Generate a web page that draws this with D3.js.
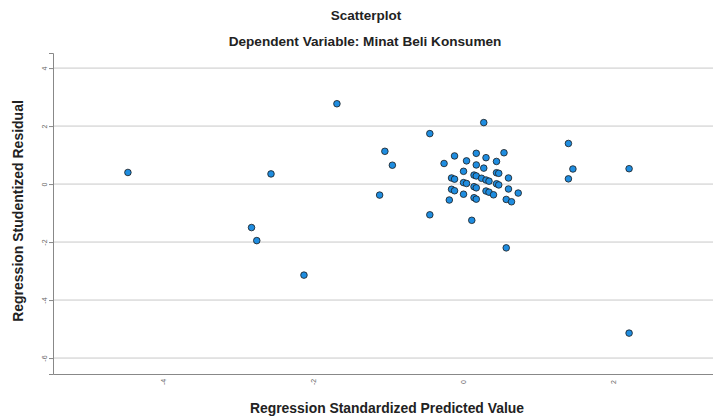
<!DOCTYPE html>
<html>
<head>
<meta charset="utf-8">
<script src="https://cdn.jsdelivr.net/npm/d3@7"></script>
<style>
  body { margin: 0; background: #fff; }
  text { font-family: "Liberation Sans", Arial, sans-serif; }
</style>
</head>
<body>
<div id="chart"></div>
<script>
// predicted values (x) and studentized residuals (y)
var predicted = [-1.69, -1.05, -0.95, -4.48, -2.57, -1.12, -2.83, -2.76, -2.13,
  1.40, 1.46, 2.21, 1.40, 2.21,
  0.27, -0.45, -0.12, 0.17, 0.54, 0.30, -0.26, 0.04, 0.44, 0.17, 0.27,
  0.00, 0.44, 0.47, 0.14, 0.17, 0.24, 0.30, 0.34, -0.16, -0.12, 0.60,
  0.00, 0.04, 0.44, 0.47, 0.14, 0.17, -0.16, -0.12, 0.60, 0.30, 0.34,
  0.40, 0.73, 0.00, 0.14, 0.17, -0.19, 0.57, 0.64, -0.45, 0.11, 0.57];
var residual = [2.77, 1.13, 0.65, 0.40, 0.35, -0.38, -1.50, -1.95, -3.14,
  1.40, 0.52, 0.53, 0.18, -5.14,
  2.12, 1.74, 0.97, 1.06, 1.08, 0.91, 0.71, 0.80, 0.78, 0.66, 0.55,
  0.44, 0.39, 0.37, 0.31, 0.28, 0.20, 0.14, 0.10, 0.21, 0.17, 0.21,
  0.05, 0.02, 0.01, -0.03, -0.09, -0.13, -0.18, -0.23, -0.17, -0.24, -0.28,
  -0.37, -0.31, -0.35, -0.47, -0.52, -0.55, -0.53, -0.61, -1.06, -1.25, -2.20];
var xTicks = [-4, -2, 0, 2];
var yTicks = [4, 2, 0, -2, -4, -6];

var W = 713, H = 417;
var svg = d3.select("#chart").append("svg").attr("width", W).attr("height", H);

var plotLeft = 53, plotRight = 713, plotTop = 53, plotBottom = 374;

var x = d3.scaleLinear().domain([-5.48, 3.33]).range([plotLeft, plotRight]);
var y = d3.scaleLinear().domain([-6.55, 4.52]).range([plotBottom, plotTop]);

var fmt = function(d) { return String(d); };

// grid lines
svg.append("g").selectAll("line").data(yTicks).enter().append("line")
  .attr("x1", plotLeft).attr("x2", plotRight)
  .attr("y1", function(d) { return y(d); }).attr("y2", function(d) { return y(d); })
  .attr("stroke", "#c8c8c8").attr("stroke-width", 1);

// axes
var yAxis = d3.axisLeft(y).tickValues(yTicks).tickSize(4).tickFormat(fmt);
var xAxis = d3.axisBottom(x).tickValues(xTicks).tickSize(0).tickFormat(fmt);

var gy = svg.append("g").attr("transform", "translate(" + plotLeft + ",0)").call(yAxis);
var gx = svg.append("g").attr("transform", "translate(0," + plotBottom + ")").call(xAxis);

[gx, gy].forEach(function(g) {
  g.select(".domain").attr("stroke", "#888");
  g.selectAll(".tick line").attr("stroke", "#888");
  g.selectAll(".tick text").attr("fill", "#666").attr("font-size", 7);
});
gy.selectAll(".tick text")
  .attr("x", 0).attr("dy", 0)
  .attr("transform", "translate(-6,0) rotate(-90)")
  .attr("text-anchor", "middle");
gx.selectAll(".tick text")
  .attr("y", 0).attr("dy", 0)
  .attr("transform", "translate(0,8) rotate(-90)")
  .attr("text-anchor", "middle").attr("dominant-baseline", "middle");

// points
var pts = predicted.map(function(v, i) { return [v, residual[i]]; });
svg.append("g").selectAll("circle").data(pts).enter().append("circle")
  .attr("cx", function(d) { return x(d[0]); })
  .attr("cy", function(d) { return y(d[1]); })
  .attr("r", 3.3)
  .attr("fill", "#1f8de0")
  .attr("stroke", "#1a1a1a").attr("stroke-width", 0.8);

// titles
svg.append("text").attr("x", 366).attr("y", 20).attr("text-anchor", "middle")
  .attr("font-size", 13.5).attr("font-weight", "bold").attr("fill", "#222").text("Scatterplot");
svg.append("text").attr("x", 365).attr("y", 46).attr("text-anchor", "middle")
  .attr("font-size", 13.6).attr("font-weight", "bold").attr("fill", "#222")
  .text("Dependent Variable: Minat Beli Konsumen");
svg.append("text").attr("x", 387).attr("y", 413).attr("text-anchor", "middle")
  .attr("font-size", 13.9).attr("font-weight", "bold").attr("fill", "#222")
  .text("Regression Standardized Predicted Value");
svg.append("text").attr("transform", "translate(23,211) rotate(-90)").attr("text-anchor", "middle")
  .attr("font-size", 14).attr("font-weight", "bold").attr("fill", "#222")
  .text("Regression Studentized Residual");
</script>
</body>
</html>
